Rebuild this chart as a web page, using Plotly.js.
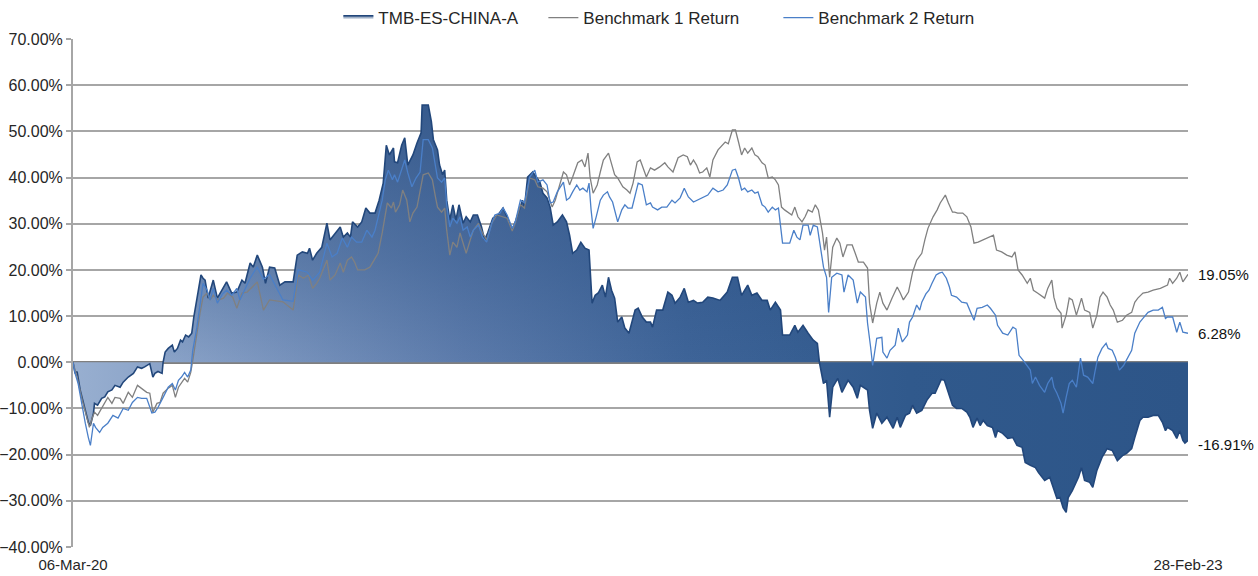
<!DOCTYPE html>
<html>
<head>
<meta charset="utf-8">
<script src="https://cdn.plot.ly/plotly-3.0.1.min.js"></script>
<style>
  html, body { margin: 0; padding: 0; background: #ffffff; }
  #chart { width: 1258px; height: 576px; }
</style>
</head>
<body>
<div id="chart"></div>
<script>
// ---- Data ----
// Day offsets are counted from the first date, 06-Mar-2020.
const startDate = '2020-03-06';
const endDate = '2023-02-28';
const seriesNames = ['TMB-ES-CHINA-A', 'Benchmark 1 Return', 'Benchmark 2 Return'];
const xTickLabels = ['06-Mar-20', '28-Feb-23'];

const fundDays = [0,2,4,5,7,12,15,17,20,21,24,28,31,34,38,41,46,49,54,59,63,67,70,75,78,80,83,87,88,90,93,97,99,102,105,107,110,113,116,118,121,125,127,129,132,137,141,146,150,155,160,165,168,173,176,180,185,188,192,197,202,207,215,219,224,229,231,234,238,243,248,251,256,261,264,268,271,273,278,282,286,290,295,299,303,306,309,313,314,317,321,324,327,332,336,340,341,347,350,352,356,358,361,363,365,368,371,374,377,381,384,388,391,395,399,402,405,410,415,420,424,429,432,435,439,441,444,449,453,456,459,463,466,469,473,478,482,485,488,492,496,500,504,507,510,513,517,520,523,526,529,532,536,539,543,546,549,552,556,560,564,566,570,576,581,585,588,593,597,601,606,610,615,620,625,632,639,644,649,653,659,663,668,673,678,681,686,691,693,700,705,708,713,718,723,727,729,733,736,739,742,747,751,757,762,766,769,776,778,781,785,790,795,801,805,808,813,817,820,824,829,834,839,842,845,848,851,854,857,859,863,868,873,876,879,883,886,889,893,898,901,903,908,913,918,922,927,930,935,940,943,949,954,957,961,964,967,970,972,976,979,982,985,988,993,996,1000,1005,1010,1015,1020,1025,1029,1034,1037,1042,1045,1050,1055,1060,1064,1067,1069,1074,1078,1081,1084,1086,1089];
const fundVals = [0,-2.4,-2,-3.2,-6,-10.4,-13,-13.7,-11,-8.9,-9.3,-7.8,-7.5,-6.4,-6,-5,-5.4,-4.3,-3.2,-2.4,-1,-1.3,-1,-0.3,-3.2,-2.4,-2,-2.4,0,2.2,3,3.7,2.2,3,4.8,4.4,5.9,5.5,6.3,9.8,13.5,18.9,18.2,17.8,13.9,17.8,13.9,16,17.4,15,15.2,17.8,17.1,21.5,20.6,23.2,20.6,17.1,20.6,20.4,16.7,17.4,17.4,23.2,23.9,23.6,24.7,22.1,23.6,24.9,30.1,26.5,28,29.3,27.1,28,27.1,30.4,29.3,30.4,33.4,32.3,32.3,35.1,38.8,47,44.9,46.4,43.4,43.2,47,48.6,42.7,44.9,47.5,49.7,55.7,55.7,52.1,48.2,46,42.7,40.6,41.6,35.1,30.8,34.1,30.8,34.1,30.1,31.5,30.4,31.9,31.9,29.3,26.5,28,31.2,31.9,33.4,31.5,28.6,30.4,32.5,35.1,33.6,40.1,41.2,39.9,39,36.6,35.6,33.6,29.7,30.4,31.9,30.4,27.5,23.6,24.3,26,24.7,24.3,12.8,14.5,15,16.7,14.1,18.4,15.6,13.9,8.7,9.8,7.4,6.3,9.1,11.3,11.7,9.8,8.7,8.7,7.6,11.3,11.3,15.2,14.5,12.8,14.1,16,13,13.4,12.8,13,14.1,13.9,13.4,15.2,18.4,18.4,14.5,16.7,14.5,15,13.4,13.4,11.3,13,11.3,5.9,5.9,8,6.5,8,6.3,4.8,4.1,0,-4.6,-3.9,-11.9,-5.4,-3.5,-6.5,-3.9,-5.4,-7.8,-5,-6,-10.4,-14.3,-11,-13.2,-11.9,-14.3,-11.9,-14.1,-11.5,-11,-9.3,-11,-10.4,-8.2,-6.7,-6.7,-5,-3.7,-3.9,-6,-7.6,-9.3,-10,-10,-10.8,-11.9,-14.1,-12.1,-13.7,-12.6,-13.7,-14.1,-16.3,-14.8,-15.4,-16.5,-16.3,-18,-18.4,-21.7,-22.3,-22.8,-23.9,-25.6,-24.9,-27.1,-29.5,-29.3,-31.5,-32.5,-29.3,-27.8,-26.3,-24.9,-22.8,-25.6,-26,-27.1,-23.4,-20.6,-18.7,-19.1,-21.3,-20.2,-19.7,-18.7,-16.3,-12.6,-11.9,-11.9,-11.5,-11.5,-13,-14.8,-14.1,-14.8,-16.5,-14.8,-16.9,-17.5,-16.91];

const bench1Days = [0,4,9,14,16,19,21,24,28,31,34,38,41,46,49,54,58,63,67,72,75,77,78,82,85,88,93,97,100,103,106,109,112,115,117,121,124,127,131,134,137,142,147,151,156,160,165,170,175,180,186,192,205,215,220,225,230,234,238,241,248,251,256,261,264,268,272,275,278,285,290,295,298,302,305,307,311,313,315,319,322,326,329,332,336,339,342,347,351,354,356,360,363,365,368,371,375,378,381,384,388,391,396,400,404,409,414,419,424,429,432,437,441,446,451,454,459,463,468,471,476,479,482,485,488,493,497,500,503,505,508,512,515,518,523,526,529,532,537,541,544,547,551,554,557,560,564,568,573,578,581,586,591,596,600,603,606,609,612,615,619,622,625,630,637,640,644,647,650,653,656,659,663,666,669,673,676,679,683,686,689,692,695,698,702,705,708,712,715,718,722,725,728,732,734,736,739,742,746,749,752,756,761,764,767,772,776,778,781,785,788,791,795,800,805,808,811,816,820,824,829,832,835,840,844,847,852,855,859,861,864,869,873,877,880,884,889,894,899,902,907,912,917,920,923,927,932,935,938,942,949,952,956,958,961,965,966,970,973,976,980,985,988,993,996,1000,1003,1006,1010,1013,1016,1020,1025,1029,1034,1037,1040,1045,1050,1055,1062,1069,1071,1074,1078,1081,1084,1089];
const bench1Vals = [0,-3.2,-8.2,-12.6,-14.1,-11.9,-10.8,-11.5,-9.8,-8.7,-7.6,-8.9,-7.6,-7.8,-8.9,-6.5,-7.6,-5,-5.6,-6.5,-6.7,-9.8,-10.8,-8.9,-8.7,-6.7,-5.6,-5,-7.6,-5.4,-4.3,-3.5,-4.3,-2.2,0.4,6.9,10.6,14.1,15,13.5,14.5,13.5,13.9,15,14.1,11.7,15,15.2,16.3,17.4,11.3,13.5,13.1,11.3,18.9,18.2,18.9,16,17.1,18.2,22.1,17.8,18.9,21.5,19.5,22.1,22.8,21.7,20,20,20.6,22.6,23.6,28,32.5,34.5,33.4,34.7,32.5,34.1,37.3,35.1,30.4,32.3,33.6,37.3,40.6,41,39.5,35.8,33.6,32.5,33.4,28.6,23.2,26,24.9,28,25.8,23.6,26.5,28.6,30.1,28,26.5,30.1,31.9,31.5,31.2,28.4,30.1,34.1,33.4,39.9,39.5,38,37.7,36.9,33.6,35.1,38.8,41.2,40.6,38.4,40.1,43.2,43.8,42.3,45.3,40.1,36.6,38.4,41.2,43.8,45.3,43.2,40.6,39.9,38,37.3,36.6,38.8,43.4,43.8,42.1,40.1,42.1,41.6,42.3,43.2,42.3,41.2,44.3,44.9,44.5,42.7,43.8,42.7,41,41.2,42.1,40.1,43.8,46,47.7,47.3,50.3,50.3,47.7,44.9,46.4,45.3,46.4,44.9,44.5,43.2,42.7,39.9,40.1,39.5,38.4,33.6,33,32.5,31.9,33.6,31.5,30.4,31.5,33,32.5,34.1,33,28,24.3,27.1,18.4,24.9,26.9,25.8,22.8,25.4,25.4,23.6,21.7,21.7,20.4,12.8,8.5,12.8,15.2,12.8,11.3,13.9,16.3,15,13.5,15.2,19.5,22.1,23.6,26.5,29,31.5,33,34.5,36.2,34.5,32.5,32.5,32.3,32.3,31.5,29.3,25.8,26,26.5,26.9,27.5,24.3,23.9,23.2,22.8,23.9,20,18.9,17.1,18.2,15.6,15,13.9,16,17.8,14.1,11.7,10.6,7.4,10.2,13.9,13.5,10.2,13.9,11.3,10.8,7.4,10.2,14.1,15.2,14.1,12.4,11.3,8.7,9.1,10.2,10.8,13,13.9,15,15.2,15.6,16,16.7,18.2,17.1,18.2,19.5,17.4,19.05];

const bench2Days = [0,2,5,9,12,15,17,20,22,26,29,34,39,44,49,54,58,63,67,72,77,80,83,88,93,97,100,103,106,109,112,115,117,121,124,127,131,134,137,141,146,150,155,160,163,168,173,178,180,186,192,205,215,220,229,234,241,248,253,258,263,268,272,277,282,287,292,295,298,302,305,308,312,314,317,321,324,327,331,335,339,342,347,351,354,356,360,363,365,368,371,375,378,381,385,388,391,396,400,404,409,412,417,420,424,429,432,437,441,446,451,454,459,463,466,469,473,476,479,482,485,488,492,495,498,502,504,506,508,511,515,518,522,524,527,532,536,539,542,546,549,552,556,560,564,566,571,575,580,585,588,593,597,601,606,610,615,620,625,630,635,639,644,647,650,653,656,659,663,666,669,673,676,679,683,686,689,691,693,700,704,707,710,713,718,720,723,727,730,733,736,738,741,746,751,753,757,762,766,769,774,776,779,781,785,790,791,795,798,803,806,810,815,817,820,824,827,829,833,836,839,843,846,849,853,856,858,863,868,873,880,883,888,893,896,901,903,908,913,918,921,924,928,932,935,937,940,944,949,952,956,958,961,965,967,970,973,976,980,984,987,991,996,998,1001,1005,1009,1011,1015,1018,1022,1026,1030,1034,1037,1042,1045,1050,1055,1060,1064,1067,1069,1074,1078,1081,1084,1089];
const bench2Vals = [0,-2.4,-4.6,-9.8,-13.2,-16.3,-18,-13.2,-14.1,-15.2,-14.1,-13.2,-11.5,-12.1,-10,-10.4,-8.7,-7.6,-7.8,-7.8,-11,-10.8,-9.8,-7.6,-5.4,-4.6,-6,-3.9,-3.2,-2.2,-3.2,-1.7,2.6,7.6,12.8,17.1,15.6,13.5,16,12.8,14.8,15.6,14.5,16,13.5,16,18.2,20,20.6,18,19,13.5,13.2,20,19.5,17.8,19.5,25.8,22.8,23.6,26.9,24.9,27.1,26,26,28.6,27.1,28.6,31.5,35.1,39.5,41.6,39.5,40.6,39,41.6,43.8,41,38,39.9,41.2,48.2,48.2,46.4,42.7,39.9,39,39.9,34.1,29.3,31.2,30.1,31.5,28.6,29.3,27.1,28.6,29.7,27.1,26,30.1,31.9,32.3,33.4,31.9,29,30.4,35.1,34.5,40.1,41.6,39,39.5,38.4,34.5,34.7,36.9,38,39,35.1,35.6,36.9,38.4,37.3,37.7,36.9,38.8,33,29,31.5,35.1,36.2,36.9,35.8,34.7,30.4,33,34.1,33.4,33.4,36.2,38.8,38.4,34.1,34.5,33.6,33,33.6,33.6,35.1,34.5,35.6,37.7,35.8,34.7,35.1,35.6,36.2,37.7,36.9,37.3,38.4,41.6,41.8,39.9,37.3,37.7,36.9,37.3,36.6,36.9,34.1,33.6,32.5,33.6,33,33.4,30.1,25.8,25.8,28.6,27.1,26.5,29.7,29.7,27.5,29.7,29.3,25.4,20.6,18.4,10.8,18.4,19.3,18.9,15.2,18.9,17.8,12.8,15.2,14.1,8.5,3.3,-0.7,5.2,5.4,2.2,0.9,2.6,3.7,7.4,4.4,5.9,8.7,9.8,12.4,11.3,13,14.8,15.6,17.1,18.9,19.3,19.5,18.2,16.3,14.5,14.1,13,12.8,9.1,11.7,11.9,12.4,11.7,10.2,8,6.3,5.9,7.6,7.2,1.5,0.4,-0.7,-1.7,-4.6,-3.2,-5,-6.5,-4.6,-3.2,-5.4,-6.7,-8.9,-11,-7.6,-4.6,-3.9,-5.4,0.9,-2.8,-3.2,-4.6,-2.2,1.1,3,4.1,3,2.6,1.1,-1.7,-0.7,0.9,2.6,6.3,8.7,9.5,10.8,11.3,11.3,11.9,9.5,9.8,9.8,6.5,8.7,6.5,6.28];

// ---- Helpers ----
const DAY = 86400000;
const t0 = Date.parse(startDate + 'T00:00:00Z');
function toDates(days) {
  return days.map(d => new Date(t0 + d * DAY).toISOString().slice(0, 10));
}
const fundX = toDates(fundDays);
const b1X = toDates(bench1Days);
const b2X = toDates(bench2Days);

const FONT = '"Liberation Sans", Arial, sans-serif';

const traces = [
  // base fill: horizontal gradient (lighter on the left, dark navy on the right)
  {
    type: 'scatter', mode: 'lines', x: fundX, y: fundVals,
    fill: 'tozeroy',
    fillgradient: {
      type: 'horizontal',
      colorscale: [[0, '#98afd0'], [0.15, '#7f99c1'], [0.35, '#5c7bab'], [0.55, '#3e6498'], [0.75, '#30598c'], [1, '#2d5588']]
    },
    line: { width: 0, color: '#24487c' },
    showlegend: false, hoverinfo: 'skip'
  },
  // overlay fill: vertical darkening toward the top
  {
    type: 'scatter', mode: 'lines', x: fundX, y: fundVals,
    name: seriesNames[0],
    fill: 'tozeroy',
    fillgradient: {
      type: 'vertical', start: -33, stop: 56,
      colorscale: [[0, 'rgba(40,78,130,0)'], [0.37, 'rgba(40,78,130,0)'], [0.62, 'rgba(40,78,130,0.35)'], [1, 'rgba(40,78,130,0.75)']]
    },
    line: { width: 1.6, color: '#22477b' },
    legendwidth: 160
  },
  {
    type: 'scatter', mode: 'lines', x: b1X, y: bench1Vals,
    name: seriesNames[1],
    line: { width: 1.3, color: '#808080' },
    legendwidth: 190
  },
  {
    type: 'scatter', mode: 'lines', x: b2X, y: bench2Vals,
    name: seriesNames[2],
    line: { width: 1.3, color: '#4a7fc8' }
  }
];

const lastOf = a => a[a.length - 1];
const endLabels = [
  { v: lastOf(bench1Vals), shift: 0 },
  { v: lastOf(bench2Vals), shift: 0 },
  { v: lastOf(fundVals), shift: -4 }
];

const layout = {
  width: 1258, height: 576,
  margin: { l: 73, r: 70, t: 39, b: 29, pad: 0, autoexpand: false },
  paper_bgcolor: '#ffffff', plot_bgcolor: '#ffffff',
  font: { family: FONT, size: 16, color: '#262626' },
  showlegend: true,
  legend: {
    orientation: 'h', x: 0.238, xanchor: 'left', y: 1.041, yanchor: 'middle',
    font: { family: FONT, size: 17, color: '#262626' },
    itemwidth: 30, traceorder: 'normal', bgcolor: 'rgba(0,0,0,0)'
  },
  xaxis: {
    type: 'date',
    range: [startDate, endDate],
    tickvals: [startDate, endDate],
    ticktext: xTickLabels,
    showgrid: false, zeroline: false, showline: false,
    ticks: 'outside', ticklen: 4, tickcolor: 'rgba(0,0,0,0)',
    tickfont: { family: FONT, size: 15, color: '#262626' },
    fixedrange: true
  },
  yaxis: {
    range: [-40, 70], dtick: 10, tick0: 0,
    tickformat: '.2f', ticksuffix: '%',
    showgrid: true, gridcolor: '#a6a6a6', gridwidth: 2,
    zeroline: true, zerolinecolor: '#7f7f7f', zerolinewidth: 2.5,
    showline: true, linecolor: '#a6a6a6', linewidth: 2,
    ticks: 'outside', ticklen: 5, tickcolor: '#a6a6a6', tickwidth: 2,
    tickfont: { family: FONT, size: 16, color: '#262626' },
    fixedrange: true
  },
  annotations: endLabels.map(o => ({
    x: endDate, y: o.v, xref: 'x', yref: 'y',
    text: o.v.toFixed(2) + '%', showarrow: false,
    xanchor: 'left', yanchor: 'middle', xshift: 8, yshift: o.shift,
    font: { family: FONT, size: 15, color: '#111111' }
  }))
};

Plotly.newPlot('chart', traces, layout, { displayModeBar: false, staticPlot: true });
</script>
</body>
</html>
